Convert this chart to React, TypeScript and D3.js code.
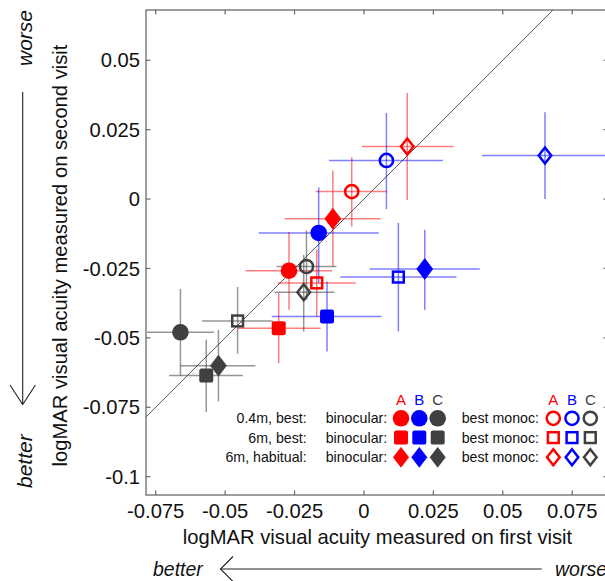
import React from "react";
import * as d3 from "d3";

// ---- data (logMAR) ----
const groups = ["A", "B", "C"];
const groupColors = ["#ff0000", "#0000ff", "#404040"];
const conditions = ["0.4m, best:", "6m, best:", "6m, habitual:"];
const conditionShapes = ["circle", "square", "diamond"];
const xTicks = [-0.075, -0.05, -0.025, 0, 0.025, 0.05, 0.075];
const yTicks = [-0.1, -0.075, -0.05, -0.025, 0, 0.025, 0.05];

// each entry: [x, xLo, xHi, y, yLo, yHi] for conditions in order circle, square, diamond
const A_binocular = [
  [-0.027, -0.0426, -0.0114, -0.0258, -0.0399, -0.0119],
  [-0.0307, -0.0454, -0.0156, -0.0465, -0.0591, -0.0338],
  [-0.0112, -0.0286, 0.006, -0.0071, -0.0243, 0.0103],
];
const A_monocular = [
  [-0.0044, -0.0174, 0.0083, 0.0027, -0.0099, 0.0151],
  [-0.017, -0.031, -0.003, -0.0302, -0.0424, -0.0183],
  [0.0156, -0.0007, 0.0323, 0.0189, -0.0003, 0.0382],
];
const B_binocular = [
  [-0.0163, -0.0379, 0.0053, -0.0122, -0.0301, 0.0042],
  [-0.0133, -0.0332, 0.0063, -0.0423, -0.0549, -0.0297],
  [0.0219, 0.0021, 0.0417, -0.0252, -0.0399, -0.0111],
];
const B_monocular = [
  [0.0081, -0.0126, 0.0284, 0.0139, -0.0036, 0.031],
  [0.0124, -0.0085, 0.0333, -0.0281, -0.0477, -0.0086],
  [0.0652, 0.0425, 0.088, 0.0157, 0.0, 0.0313],
];
const C_binocular = [
  [-0.0661, -0.0781, -0.0541, -0.048, -0.0636, -0.0324],
  [-0.0568, -0.0702, -0.0436, -0.0636, -0.0767, -0.0507],
  [-0.0524, -0.0661, -0.0391, -0.06, -0.0729, -0.0471],
];
const C_monocular = [
  [-0.0207, -0.0315, -0.0099, -0.0243, -0.0363, -0.0113],
  [-0.0455, -0.0583, -0.0328, -0.0439, -0.0557, -0.0317],
  [-0.0217, -0.0322, -0.0106, -0.0336, -0.0477, -0.0201],
];

const binocular = [A_binocular, B_binocular, C_binocular];
const monocular = [A_monocular, B_monocular, C_monocular];

const FONT = "'Liberation Sans', Arial, Helvetica, sans-serif";

function Marker({ shape, cx, cy, color, filled, s = 1 }: any) {
  if (shape === "circle") {
    return filled ? (
      <circle cx={cx} cy={cy} r={8.3 * s} fill={color} />
    ) : (
      <circle cx={cx} cy={cy} r={6.6 * s} fill="none" stroke={color} strokeWidth={2.5} />
    );
  }
  if (shape === "square") {
    if (filled) {
      const h = 7 * s;
      return <rect x={cx - h} y={cy - h} width={2 * h} height={2 * h} rx={2.2} fill={color} />;
    }
    const h = 5.4 * s;
    return <rect x={cx - h} y={cy - h} width={2 * h} height={2 * h} fill="none" stroke={color} strokeWidth={2.5} />;
  }
  // diamond
  const hw = filled ? 8 * s : 6.3 * s;
  const hh = filled ? 10.4 * s : 8 * s;
  const d = `M${cx},${cy - hh}L${cx + hw},${cy}L${cx},${cy + hh}L${cx - hw},${cy}Z`;
  return filled ? (
    <path d={d} fill={color} stroke={color} strokeWidth={0.8} strokeLinejoin="round" />
  ) : (
    <path d={d} fill="none" stroke={color} strokeWidth={2.5} strokeLinejoin="miter" />
  );
}

export default function App() {
  const W = 605, H = 581;
  const L = 146, R = 608, T = 10, B = 495;
  const x = d3.scaleLinear().domain([-0.0785, 0.0879]).range([L, R]);
  const y = d3.scaleLinear().domain([-0.1066, 0.0681]).range([B, T]);
  const frame = "#6a6a6a";
  const tickLen = 4.5;

  const allSeries: any[] = [];
  groups.forEach((g, gi) => {
    binocular[gi].forEach((p, ci) => allSeries.push({ g: gi, c: ci, filled: true, p }));
    monocular[gi].forEach((p, ci) => allSeries.push({ g: gi, c: ci, filled: false, p }));
  });

  const dMin = Math.max(x.domain()[0], y.domain()[0]);
  const dMax = Math.min(x.domain()[1], y.domain()[1]);

  // legend layout
  const legRows = [418.3, 437.6, 457.3];
  const legHeadY = 399.5;
  const binoCols = [401, 419.3, 437.7];
  const monoCols = [553.3, 572, 590.3];

  return (
    <svg width={W} height={H} style={{ position: "absolute", left: 0, top: 0, background: "#fff" }} fontFamily={FONT}>
      <defs>
        <clipPath id="plotclip">
          <rect x={L} y={T} width={R - L} height={B - T} />
        </clipPath>
      </defs>
      <rect x={0} y={0} width={W} height={H} fill="#fff" />

      {/* identity line */}
      <line x1={x(dMin)} y1={y(dMin)} x2={x(dMax)} y2={y(dMax)} stroke="#555" strokeWidth={1} clipPath="url(#plotclip)" />

      {/* error bars */}
      <g clipPath="url(#plotclip)">
        {allSeries.map((s, i) => {
          const [px, xl, xh, py, yl, yh] = s.p;
          return (
            <g key={"e" + i} stroke={groupColors[s.g]} strokeOpacity={s.g === 2 ? 0.55 : 0.5} strokeWidth={1.5}>
              <line x1={x(xl)} x2={x(xh)} y1={y(py)} y2={y(py)} />
              <line x1={x(px)} x2={x(px)} y1={y(yl)} y2={y(yh)} />
            </g>
          );
        })}
      </g>

      {/* markers */}
      <g clipPath="url(#plotclip)">
        {allSeries.map((s, i) => (
          <Marker key={"m" + i} shape={conditionShapes[s.c]} cx={x(s.p[0])} cy={y(s.p[3])} color={groupColors[s.g]} filled={s.filled} />
        ))}
      </g>

      {/* frame */}
      <rect x={L} y={T} width={R - L} height={B - T} fill="none" stroke={frame} strokeWidth={1.3} />
      {xTicks.map((t) => (
        <g key={"xt" + t}>
          <line x1={x(t)} x2={x(t)} y1={B} y2={B - tickLen} stroke={frame} strokeWidth={1.2} />
          <line x1={x(t)} x2={x(t)} y1={T} y2={T + tickLen} stroke={frame} strokeWidth={1.2} />
          <text x={x(t)} y={518} textAnchor="middle" fontSize={20.2} fill="#111">
            {t === 0 ? "0" : String(t)}
          </text>
        </g>
      ))}
      {yTicks.map((t) => (
        <g key={"yt" + t}>
          <line x1={L} x2={L + tickLen} y1={y(t)} y2={y(t)} stroke={frame} strokeWidth={1.2} />
          <line x1={R} x2={R - tickLen} y1={y(t)} y2={y(t)} stroke={frame} strokeWidth={1.2} />
          <text x={140} y={y(t)} dy="0.35em" textAnchor="end" fontSize={20.2} fill="#111">
            {t === 0 ? "0" : String(t)}
          </text>
        </g>
      ))}

      {/* axis labels */}
      <text x={377.5} y={544} textAnchor="middle" fontSize={20.2} fill="#111">
        logMAR visual acuity measured on first visit
      </text>
      <text transform={`translate(67,255.5) rotate(-90)`} textAnchor="middle" fontSize={20.2} fill="#111">
        logMAR visual acuity measured on second visit
      </text>

      {/* better/worse arrows */}
      <g stroke="#222" strokeWidth={1.1} fill="none">
        <line x1={220} y1={569} x2={541.7} y2={569} />
        <polyline points="233,556.5 220.5,569 233,581.5" />
        <line x1={22.7} y1={92} x2={22.7} y2={404} />
        <polyline points="10,385 22.7,404.5 35.4,385" />
      </g>
      <text x={153} y={575.5} fontSize={19.5} fontStyle="italic" fill="#111">better</text>
      <text x={555} y={575.5} fontSize={19.5} fontStyle="italic" fill="#111">worse</text>
      <text transform={`translate(31.5,10) rotate(-90)`} textAnchor="end" fontSize={21} fontStyle="italic" fill="#111">worse</text>
      <text transform={`translate(31.5,488) rotate(-90)`} textAnchor="start" fontSize={21} fontStyle="italic" fill="#111">better</text>

      {/* legend */}
      <g fontSize={14.2} fill="#111">
        {groups.map((g, gi) => (
          <g key={"lh" + g}>
            <text x={binoCols[gi]} y={legHeadY} dy="0.35em" textAnchor="middle" fill={groupColors[gi]} fontSize={15}>{g}</text>
            <text x={monoCols[gi]} y={legHeadY} dy="0.35em" textAnchor="middle" fill={groupColors[gi]} fontSize={15}>{g}</text>
          </g>
        ))}
        {conditions.map((c, ci) => (
          <g key={"lr" + ci}>
            <text x={306.7} y={legRows[ci]} dy="0.35em" textAnchor="end">{c}</text>
            <text x={325.7} y={legRows[ci]} dy="0.35em">binocular:</text>
            <text x={461.7} y={legRows[ci]} dy="0.35em">best monoc:</text>
            {groups.map((g, gi) => (
              <g key={"lm" + gi}>
                <Marker shape={conditionShapes[ci]} cx={binoCols[gi]} cy={legRows[ci]} color={groupColors[gi]} filled={true} s={ci === 2 ? 0.95 : 1} />
                <Marker shape={conditionShapes[ci]} cx={monoCols[gi]} cy={legRows[ci]} color={groupColors[gi]} filled={false} s={1} />
              </g>
            ))}
          </g>
        ))}
      </g>
    </svg>
  );
}
